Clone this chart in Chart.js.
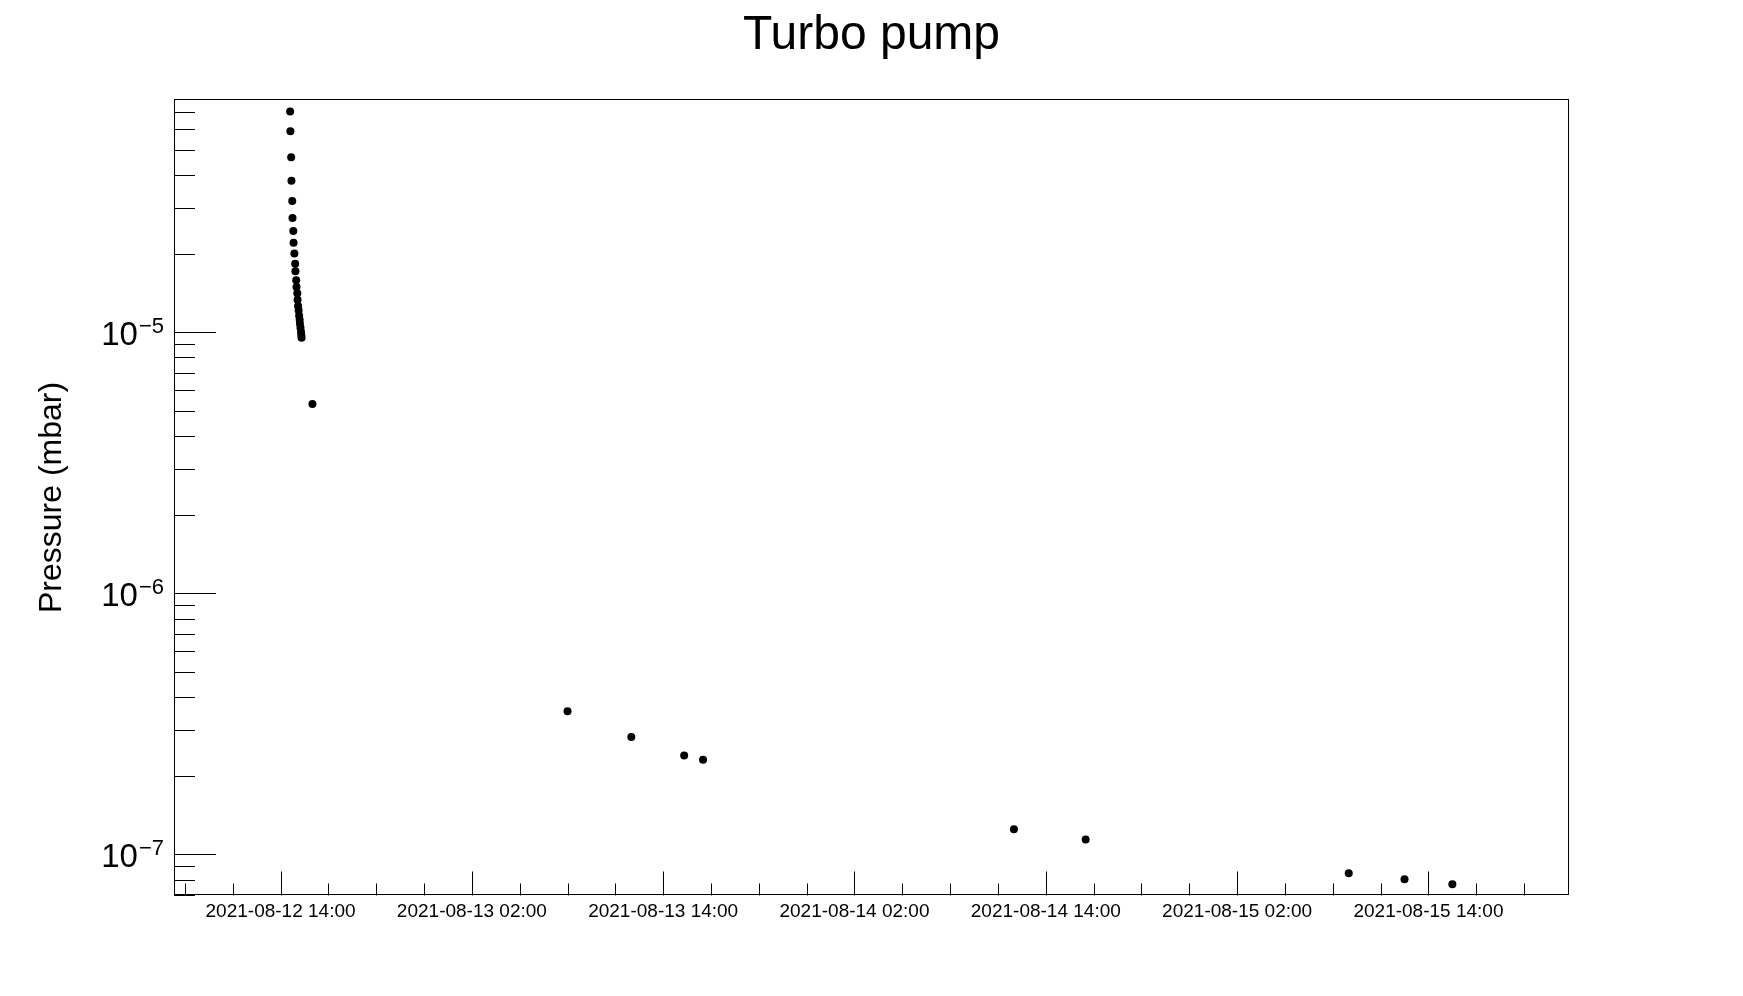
<!DOCTYPE html>
<html><head><meta charset="utf-8">
<script src="https://cdn.jsdelivr.net/npm/chart.js@4/dist/chart.umd.min.js"></script>
<style>html,body{margin:0;padding:0;background:#fff;}canvas{display:block}</style>
</head><body>
<canvas id="c" width="1743" height="996"></canvas>
<script>
// ---------------- data ----------------
const chartTitle = 'Turbo pump';
const yAxisTitle = 'Pressure (mbar)';
const refTime = '2021-08-12 02:00';
const xRange = ['2021-08-12 07:19', '2021-08-15 22:49'];
const yRange = [6.95e-8, 7.8e-5];
const xTickLabels = ['2021-08-12 14:00', '2021-08-13 02:00', '2021-08-13 14:00', '2021-08-14 02:00',
                     '2021-08-14 14:00', '2021-08-15 02:00', '2021-08-15 14:00'];
const yTickExponents = [-7, -6, -5];
const timeStamps = [
  '2021-08-12 14:36', '2021-08-12 14:37', '2021-08-12 14:40', '2021-08-12 14:41',
  '2021-08-12 14:44', '2021-08-12 14:45', '2021-08-12 14:48', '2021-08-12 14:49',
  '2021-08-12 14:52', '2021-08-12 14:55', '2021-08-12 14:56', '2021-08-12 14:59',
  '2021-08-12 15:00', '2021-08-12 15:03', '2021-08-12 15:04', '2021-08-12 15:06',
  '2021-08-12 15:08', '2021-08-12 15:10', '2021-08-12 15:12', '2021-08-12 15:13',
  '2021-08-12 15:15', '2021-08-12 15:17', '2021-08-12 15:18', '2021-08-12 15:19',
  '2021-08-12 16:00', '2021-08-13 08:00', '2021-08-13 12:00', '2021-08-13 15:19',
  '2021-08-13 16:30', '2021-08-14 12:00', '2021-08-14 16:30', '2021-08-15 09:00',
  '2021-08-15 12:30', '2021-08-15 15:30'
];
const pressures = [
  7.0e-5, 5.89e-5, 4.68e-5, 3.80e-5,
  3.18e-5, 2.74e-5, 2.44e-5, 2.20e-5,
  2.00e-5, 1.83e-5, 1.71e-5, 1.58e-5,
  1.49e-5, 1.41e-5, 1.33e-5, 1.26e-5,
  1.21e-5, 1.155e-5, 1.115e-5, 1.076e-5,
  1.039e-5, 1.003e-5, 9.76e-6, 9.51e-6,
  5.31e-6, 3.53e-7, 2.81e-7, 2.39e-7,
  2.30e-7, 1.247e-7, 1.14e-7, 8.46e-8,
  8.02e-8, 7.67e-8
];

// ---------------- helpers ----------------
function parseT(s) {
  const m = s.match(/(\d+)-(\d+)-(\d+) (\d+):(\d+)/);
  return Date.UTC(+m[1], +m[2] - 1, +m[3], +m[4], +m[5]);
}
const T0 = parseT(refTime);
function hoursOf(s) { return (parseT(s) - T0) / 3600000; }
function pad(n) { return String(n).padStart(2, '0'); }
function fmtHours(h) {
  const d = new Date(T0 + Math.round(h * 60) * 60000);
  return d.getUTCFullYear() + '-' + pad(d.getUTCMonth() + 1) + '-' + pad(d.getUTCDate()) + ' ' +
         pad(d.getUTCHours()) + ':' + pad(d.getUTCMinutes());
}
const points = timeStamps.map((t, i) => ({ x: hoursOf(t), y: pressures[i] }));
const FONT = "'Liberation Sans', Arial, Helvetica, sans-serif";

const rootAxes = {
  id: 'rootAxes',
  beforeDatasetsDraw(chart) {
    const ctx = chart.ctx, a = chart.chartArea, xs = chart.scales.x, ys = chart.scales.y;
    ctx.save();
    ctx.strokeStyle = '#000';
    ctx.lineWidth = 1;
    ctx.strokeRect(Math.round(a.left) + 0.5, Math.round(a.top) + 0.5,
                   Math.round(a.right - a.left) - 1, Math.round(a.bottom - a.top) - 1);
    ctx.beginPath();
    for (let e = -9; e <= -3; e++) {
      for (let k = 1; k <= 9; k++) {
        const v = k * Math.pow(10, e);
        if (v < ys.min || v > ys.max) continue;
        const py = Math.round(ys.getPixelForValue(v)) + 0.5;
        const len = k === 1 ? 42 : 21;
        ctx.moveTo(a.left, py); ctx.lineTo(a.left + len, py);
      }
    }
    const start = Math.ceil(xs.min / 3) * 3;
    for (let h = start; h <= xs.max; h += 3) {
      const px = Math.round(xs.getPixelForValue(h)) + 0.5;
      const len = (h % 12 === 0) ? 24 : 12;
      ctx.moveTo(px, a.bottom); ctx.lineTo(px, a.bottom - len);
    }
    ctx.stroke();
    ctx.restore();
  },
  afterDraw(chart) {
    const ctx = chart.ctx, a = chart.chartArea, ys = chart.scales.y;
    ctx.save();
    ctx.fillStyle = '#000';
    ctx.textBaseline = 'alphabetic';
    // title, centred over the frame
    ctx.font = '48px ' + FONT;
    ctx.textAlign = 'center';
    ctx.fillText(chartTitle, (a.left + a.right) / 2, 49);
    // y labels 10^n
    const right = a.left - 10;
    yTickExponents.forEach(e => {
      const py = ys.getPixelForValue(Math.pow(10, e));
      const sup = '\u2212' + Math.abs(e);
      ctx.font = '22px ' + FONT;
      const wSup = ctx.measureText(sup).width;
      ctx.textAlign = 'left';
      ctx.fillText(sup, right - wSup, py + 1);
      ctx.font = '33px ' + FONT;
      ctx.textAlign = 'right';
      ctx.fillText('10', right - wSup - 1, py + 13);
    });
    ctx.restore();
  }
};

new Chart(document.getElementById('c'), {
  type: 'scatter',
  data: {
    datasets: [{
      data: points,
      pointRadius: 4,
      pointHoverRadius: 4,
      pointBackgroundColor: '#000',
      pointBorderColor: '#000',
      pointBorderWidth: 0,
      showLine: false
    }]
  },
  options: {
    responsive: false,
    animation: false,
    devicePixelRatio: 1,
    layout: { padding: { left: 0, right: 174, top: 99.3, bottom: 0 } },
    plugins: {
      legend: { display: false },
      tooltip: { enabled: false },
      title: { display: false }
    },
    scales: {
      x: {
        type: 'linear',
        min: hoursOf(xRange[0]), max: hoursOf(xRange[1]),
        afterFit(s) { s.height = 100.5; },
        grid: { display: false, drawTicks: false },
        border: { display: false },
        ticks: {
          stepSize: 3, autoSkip: false, maxRotation: 0, minRotation: 0, includeBounds: false,
          padding: 5, color: '#000', font: { family: FONT, size: 19 },
          callback(v) { const s = fmtHours(v); return xTickLabels.includes(s) ? s : ''; }
        }
      },
      y: {
        type: 'logarithmic',
        min: yRange[0], max: yRange[1],
        afterFit(s) { s.width = 174; },
        grid: { display: false, drawTicks: false },
        border: { display: false },
        ticks: { display: false },
        title: {
          display: true, text: yAxisTitle, color: '#000',
          font: { family: FONT, size: 32, weight: 'normal', lineHeight: 1.2 },
          padding: { top: 33, bottom: 0 }
        }
      }
    }
  },
  plugins: [rootAxes]
});
</script>
</body></html>
